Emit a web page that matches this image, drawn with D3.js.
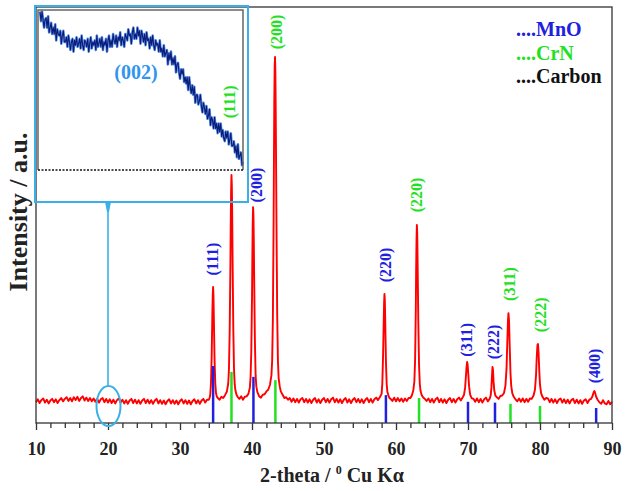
<!DOCTYPE html>
<html><head><meta charset="utf-8">
<script src="https://cdn.jsdelivr.net/npm/d3@7"></script>
<style>
html,body{margin:0;padding:0;background:#fff;}
svg{display:block;}
svg text{font-family:"Liberation Serif","Times New Roman","DejaVu Serif",serif;font-weight:bold;}
</style></head><body><svg id="c" width="630" height="491"></svg>
<script>
// ---- XRD scan: [2-theta, intensity (a.u.)] ----
const scan = [
[10.00,50],[10.25,57],[10.50,48],[10.75,55],[11.00,59],[11.25,49],[11.50,56],[11.75,47],[12.00,54],[12.25,58],[12.50,50],[12.75,57],
[13.00,48],[13.25,55],[13.50,60],[13.75,52],[14.00,58],[14.25,62],[14.50,53],[14.75,60],[15.00,52],[15.25,62],[15.50,55],[15.75,63],
[16.00,53],[16.25,60],[16.50,64],[16.75,54],[17.00,61],[17.25,53],[17.50,60],[17.75,52],[18.00,59],[18.25,51],[18.50,58],[18.75,49],
[19.00,57],[19.25,60],[19.50,50],[19.75,58],[20.00,49],[20.25,57],[20.50,48],[20.75,56],[21.00,47],[21.25,55],[21.50,59],[21.75,49],
[22.00,56],[22.25,47],[22.50,55],[22.75,46],[23.00,54],[23.25,58],[23.50,48],[23.75,56],[24.00,47],[24.25,55],[24.50,46],[24.75,54],
[25.00,58],[25.25,48],[25.50,56],[25.75,47],[26.00,55],[26.25,46],[26.50,54],[26.75,58],[27.00,47],[27.25,55],[27.50,46],[27.75,54],
[28.00,45],[28.25,53],[28.50,57],[28.75,47],[29.00,55],[29.25,46],[29.50,54],[29.75,45],[30.00,53],[30.25,57],[30.50,47],[30.75,55],
[31.00,46],[31.25,54],[31.50,45],[31.75,53],[32.00,57],[32.25,47],[32.50,55],[32.75,46],[33.00,54],[33.25,58],[33.50,49],[33.75,56],
[34.00,56],[34.10,60],[34.20,68],[34.30,95],[34.40,160],[34.50,270],[34.55,310],[34.60,327],[34.65,305],[34.70,255],[34.80,150],[34.90,95],
[35.00,72],[35.10,64],[35.25,60],[35.50,56],[35.75,63],[36.00,60],[36.25,67],[36.50,75],[36.70,95],[36.80,130],[36.90,220],[37.00,380],
[37.05,480],[37.10,560],[37.15,596],[37.20,570],[37.25,500],[37.30,400],[37.40,230],[37.50,130],[37.60,92],[37.70,78],[37.85,68],[38.00,63],
[38.25,58],[38.50,64],[38.75,56],[39.00,63],[39.25,64],[39.50,70],[39.70,85],[39.80,110],[39.90,170],[40.00,300],[40.05,400],[40.10,480],
[40.15,519],[40.20,500],[40.25,440],[40.30,350],[40.40,200],[40.50,115],[40.60,88],[40.75,74],[41.00,64],[41.25,61],[41.50,68],[41.75,69],
[42.00,76],[42.25,80],[42.50,92],[42.70,115],[42.80,150],[42.90,250],[43.00,480],[43.05,640],[43.10,780],[43.15,860],[43.20,880],[43.25,840],
[43.30,740],[43.40,480],[43.50,260],[43.60,150],[43.70,108],[43.85,88],[44.00,76],[44.25,68],[44.50,60],[44.75,62],[45.00,56],[45.25,60],
[45.50,51],[45.75,59],[46.00,50],[46.25,58],[46.50,49],[46.75,57],[47.00,60],[47.25,50],[47.50,58],[47.75,49],[48.00,57],[48.25,48],
[48.50,56],[48.75,60],[49.00,49],[49.25,57],[49.50,48],[49.75,56],[50.00,60],[50.25,50],[50.50,58],[50.75,49],[51.00,57],[51.25,61],
[51.50,50],[51.75,58],[52.00,49],[52.25,57],[52.50,48],[52.75,56],[53.00,60],[53.25,49],[53.50,57],[53.75,48],[54.00,56],[54.25,60],
[54.50,50],[54.75,58],[55.00,49],[55.25,57],[55.50,48],[55.75,56],[56.00,60],[56.25,50],[56.50,58],[56.75,49],[57.00,57],[57.25,61],
[57.50,55],[57.75,62],[58.00,70],[58.10,95],[58.20,160],[58.30,250],[58.35,290],[58.40,310],[58.45,295],[58.50,250],[58.60,150],[58.70,95],
[58.80,75],[58.95,66],[59.10,60],[59.30,57],[59.50,53],[59.75,61],[60.00,52],[60.25,60],[60.50,52],[60.75,59],[61.00,51],[61.25,59],
[61.50,53],[61.75,60],[62.00,60],[62.20,66],[62.40,78],[62.55,100],[62.65,150],[62.75,270],[62.80,370],[62.85,440],[62.90,476],[62.95,455],
[63.00,390],[63.10,240],[63.20,140],[63.30,95],[63.40,78],[63.55,68],[63.75,62],[64.00,58],[64.25,53],[64.50,59],[64.75,50],[65.00,58],
[65.25,49],[65.50,57],[65.75,61],[66.00,50],[66.25,58],[66.50,49],[66.75,57],[67.00,48],[67.25,56],[67.50,60],[67.75,50],[68.00,58],
[68.25,49],[68.50,57],[68.75,61],[69.00,54],[69.25,61],[69.45,68],[69.60,85],[69.70,110],[69.80,135],[69.88,147],[69.95,140],[70.05,115],
[70.15,88],[70.30,68],[70.50,60],[70.75,58],[71.00,51],[71.25,59],[71.50,50],[71.75,58],[72.00,49],[72.25,57],[72.50,61],[72.75,52],
[73.00,58],[73.15,66],[73.25,85],[73.32,110],[73.40,135],[73.47,128],[73.55,100],[73.65,78],[73.80,66],[74.00,62],[74.25,58],[74.50,65],
[74.75,66],[75.00,72],[75.20,90],[75.35,130],[75.45,190],[75.55,245],[75.62,264],[75.70,245],[75.80,180],[75.90,120],[76.00,90],[76.15,72],
[76.35,63],[76.60,57],[76.85,52],[77.10,59],[77.35,51],[77.60,59],[77.85,50],[78.10,58],[78.35,51],[78.60,59],[78.85,58],[79.10,66],
[79.30,80],[79.45,115],[79.55,160],[79.65,188],[79.72,190],[79.80,170],[79.90,125],[80.00,92],[80.15,72],[80.35,63],[80.60,56],[80.85,60],
[81.10,59],[81.35,50],[81.60,58],[81.85,49],[82.10,57],[82.35,48],[82.60,56],[82.85,59],[83.10,49],[83.35,57],[83.60,48],[83.85,56],
[84.10,47],[84.35,55],[84.60,58],[84.85,48],[85.10,56],[85.35,47],[85.60,55],[85.85,46],[86.10,54],[86.35,57],[86.60,48],[86.85,56],
[87.10,58],[87.30,65],[87.45,74],[87.55,77],[87.65,73],[87.80,63],[88.00,56],[88.25,50],[88.50,46],[88.75,55],[89.00,47],[89.25,45],
[89.50,53],[89.75,45],[90.00,51]
];

// ---- reference sticks ----
const mnoAngles = [34.6, 40.2, 58.6, 70.0, 73.75, 87.8];
const mnoSticks = [137, 111, 67, 51, 49, 36];
const crnAngles = [37.15, 43.25, 63.2, 75.9, 80.0];
const crnSticks = [123, 103, 60, 46, 41];

// ---- peak labels ----
const mnoHkl = ["(111)", "(200)", "(220)", "(311)", "(222)", "(400)"];
const mnoLabelAngle = [34.58, 40.69, 58.6, 69.86, 73.5, 87.6];
const mnoLabelLevel = [394, 572, 380, 200, 195, 137];
const crnHkl = ["(111)", "(200)", "(220)", "(311)", "(222)"];
const crnLabelAngle = [36.94, 43.47, 62.8, 75.8, 80.0];
const crnLabelLevel = [772, 940, 548, 334, 260];

// ---- axis ticks ----
const majorTicks = [10, 20, 30, 40, 50, 60, 70, 80, 90];
const minorTicks = [12,14,16,18,22,24,26,28,32,34,36,38,42,44,46,48,52,54,56,58,62,64,66,68,72,74,76,78,82,84,86,88];

// ---- legend ----
const legendNames = ["....MnO", "....CrN", "....Carbon"];

// ---- inset: carbon (002) region, 15-25 deg, step 0.05 ----
const insetStart = 15, insetStep = 0.05;
const insetIntensity = [
99,93,99,94,89,94,95,89,96,86, 89,92,85,89,85,91,81,88,85,84,
87,79,84,87,80,80,83,77,84,80, 75,80,82,74,81,78,83,77,79,82,
76,84,78,75,81,80,77,82,74,79, 83,76,80,78,81,75,84,77,79,82,
77,83,75,80,78,82,74,81,84,77, 81,77,85,81,79,84,77,83,81,86,
78,83,81,77,85,83,81,88,84,85, 79,86,89,82,85,82,89,84,87,79,
87,84,80,85,78,86,81,82,76,83, 78,84,78,75,81,78,79,74,81,74,
76,71,78,71,73,75,66,73,69,74, 66,70,66,71,61,66,67,61,57,63,
60,63,55,58,54,58,50,58,52,48, 53,47,52,42,47,47,41,43,47,40,
36,42,39,35,40,32,34,38,28,33, 31,26,33,26,29,23,29,24,29,21,
25,20,18,24,20,24,16,19,23,15, 15,18,11,15,8,16,7,9,11,3,5
];

// ---- colours ----
const RED = "#ff0000", BLUE = "#2020e0", GREEN = "#22e022", CYAN = "#3ab0e8";

const svg = d3.select("#c");
const L = 36, R = 612, T = 7, B = 423;
const x = d3.scaleLinear().domain([10, 90]).range([L, R]);
const y = d3.scaleLinear().domain([0, 1000]).range([B, T]);
const SERIF = "Liberation Serif";

// main pattern
svg.append("path").datum(scan)
  .attr("d", d3.line().x(d => x(d[0])).y(d => y(d[1])))
  .attr("fill", "none").attr("stroke", RED).attr("stroke-width", 1.9)
  .attr("stroke-linejoin", "round");

// sticks
function sticks(angles, vals, color) {
  svg.append("g").selectAll("line").data(angles).join("line")
    .attr("x1", d => x(d)).attr("x2", d => x(d))
    .attr("y1", y(0)).attr("y2", (d, i) => y(vals[i]))
    .attr("stroke", color).attr("stroke-width", 2.5);
}
sticks(mnoAngles, mnoSticks, BLUE);
sticks(crnAngles, crnSticks, GREEN);

// labels
function labels(angles, levels, texts, color) {
  svg.append("g").selectAll("text").data(angles).join("text")
    .attr("transform", (d, i) => `translate(${x(d)},${y(levels[i])}) rotate(-90)`)
    .attr("text-anchor", "middle").attr("dominant-baseline", "central")
    .attr("font-family", SERIF).attr("font-weight", "bold")
    .attr("font-size", 16).attr("fill", color)
    .text((d, i) => texts[i]);
}
labels(mnoLabelAngle, mnoLabelLevel, mnoHkl, BLUE);
labels(crnLabelAngle, crnLabelLevel, crnHkl, GREEN);

// frame
svg.append("rect").attr("x", L).attr("y", T).attr("width", R - L).attr("height", B - T)
  .attr("fill", "none").attr("stroke", "#333").attr("stroke-width", 1.3);

// x axis
const axG = svg.append("g").attr("transform", `translate(0,${B})`);
axG.call(d3.axisBottom(x).tickValues(minorTicks).tickSize(5).tickFormat(""));
const axM = svg.append("g").attr("transform", `translate(0,${B})`);
axM.call(d3.axisBottom(x).tickValues(majorTicks).tickSize(7).tickFormat(d3.format("d")));
[axG, axM].forEach(g => {
  g.select(".domain").remove();
  g.attr("font-family", SERIF);
  g.selectAll("line").attr("stroke", "#333").attr("stroke-width", 1.3);
});
axM.selectAll("text").attr("dy", null).attr("y", 32)
  .attr("font-size", 18).attr("font-family", SERIF).attr("font-weight", "bold").attr("fill", "#222");

// axis titles
const xt = svg.append("text").attr("x", 332).attr("y", 482).attr("text-anchor", "middle")
  .attr("font-family", SERIF).attr("font-weight", "bold")
  .attr("font-size", 20).attr("fill", "#222");
xt.append("tspan").text("2-theta / ");
xt.append("tspan").attr("font-size", 12).attr("dy", -8).text("0");
xt.append("tspan").attr("dy", 8).text(" Cu K\u03b1");

svg.append("text").attr("transform", "translate(27,212) rotate(-90)")
  .attr("font-family", SERIF).attr("font-weight", "bold")
  .attr("text-anchor", "middle").attr("font-size", 26).attr("fill", "#222")
  .text("Intensity / a.u.");

// legend
const legColors = [BLUE, GREEN, "#111"];
svg.append("g").selectAll("text").data(legendNames).join("text")
  .attr("font-family", SERIF).attr("font-weight", "bold")
  .attr("x", 516).attr("y", (d, i) => 36 + i * 23.5)
  .attr("font-size", 20).attr("fill", (d, i) => legColors[i]).text(d => d);

// inset
const ix = d3.scaleLinear().domain([15, 25]).range([40, 243]);
const iy = d3.scaleLinear().domain([0, 100]).range([170, 10]);
const insetLine = d3.line().x((d, i) => ix(insetStart + i * insetStep)).y(d => iy(d));
svg.append("path").datum(insetIntensity).attr("d", insetLine)
  .attr("fill", "none").attr("stroke", "#5b93e6").attr("stroke-width", 2.6).attr("stroke-linejoin", "round");
svg.append("path").datum(insetIntensity).attr("d", insetLine)
  .attr("fill", "none").attr("stroke", "#0c1a78").attr("stroke-width", 1.1).attr("stroke-linejoin", "round");
svg.append("path").attr("d", `M${ix(15) - 2},${iy(0)} V${iy(100)} H${ix(25)} V${iy(0)}`)
  .attr("fill", "none").attr("stroke", "#666").attr("stroke-width", 1.5);
svg.append("line").attr("x1", ix(15) - 2).attr("x2", ix(25)).attr("y1", iy(0)).attr("y2", iy(0))
  .attr("stroke", "#111").attr("stroke-width", 1.3).attr("stroke-dasharray", "2,1.5");
svg.append("text").attr("x", 136).attr("y", 79).attr("text-anchor", "middle")
  .attr("font-family", SERIF).attr("font-weight", "bold")
  .attr("font-size", 20).attr("fill", "#2f95ee").text("(002)");

// cyan frame, pointer, ellipse
svg.append("rect").attr("x", 35).attr("y", 6).attr("width", 213).attr("height", 196)
  .attr("fill", "none").attr("stroke", CYAN).attr("stroke-width", 2);
const cx = x(20);
svg.append("line").attr("x1", cx).attr("x2", cx).attr("y1", 202).attr("y2", 386)
  .attr("stroke", CYAN).attr("stroke-width", 1.6);
svg.append("path").attr("d", `M${cx - 3},202 L${cx + 3},202 L${cx + 1},212 L${cx - 1},212 Z`).attr("fill", CYAN);
svg.append("ellipse").attr("cx", cx + 0.5).attr("cy", 406).attr("rx", 12).attr("ry", 20)
  .attr("fill", "none").attr("stroke", CYAN).attr("stroke-width", 2);
</script></body></html>
